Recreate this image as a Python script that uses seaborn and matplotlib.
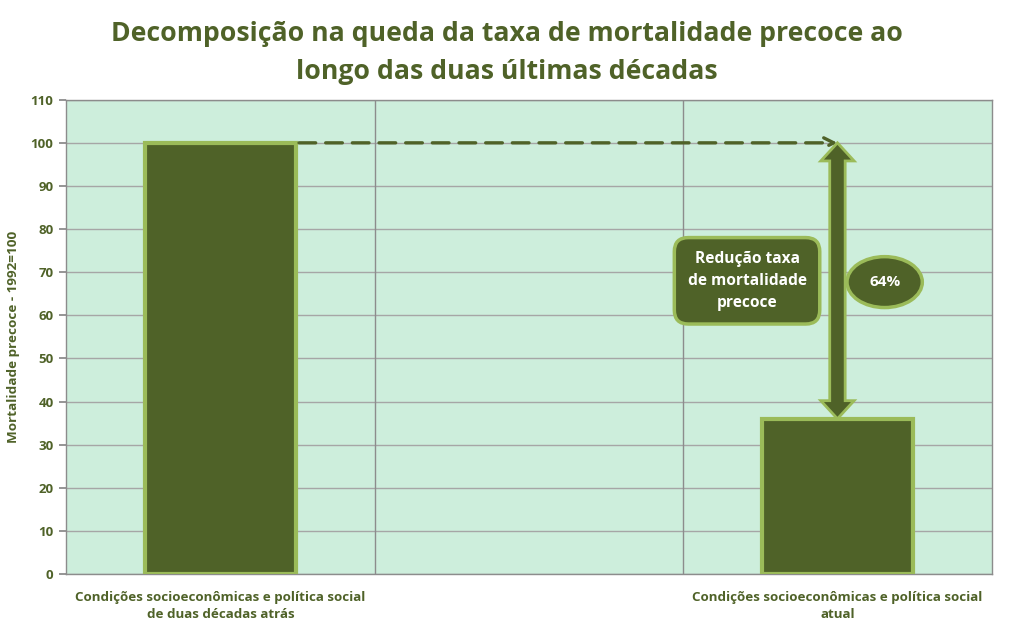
import numpy as np
import pandas as pd
import matplotlib
matplotlib.use("Agg")
import matplotlib.pyplot as plt
from matplotlib.patches import Polygon
import seaborn as sns

# ---- data ----
categories = ["Condições socioeconômicas e política social\nde duas décadas atrás",
              " ",
              "Condições socioeconômicas e política social\natual"]
present_categories = [categories[0], categories[2]]
values = [100, 36]
title = "Decomposição na queda da taxa de mortalidade precoce ao\nlongo das duas últimas décadas"
ylabel = "Mortalidade precoce - 1992=100"
yticks = list(range(0, 111, 10))
box_label = "Redução taxa\nde mortalidade\nprecoce"

DARK = "#4F6228"
LIGHT = "#9BBB59"
BG = "#CDEEDC"
GRID = "#A6A6A6"

sns.set_theme(style="white")
plt.rcParams['font.family'] = ['Open Sans', 'DejaVu Sans']

fig = plt.figure(figsize=(10.13, 6.32), dpi=100)
ax = fig.add_axes([0.0652, 0.0918, 0.9138, 0.7504])
ax.set_facecolor(BG)

df = pd.DataFrame({"cat": present_categories, "val": values})
sns.barplot(data=df, x="cat", y="val", order=categories, color=DARK,
            width=0.49, edgecolor=LIGHT, linewidth=3, saturation=1, ax=ax, zorder=3)

ax.set_ylim(0, 110)
ax.set_xlim(-0.5, 2.5)
ax.set_yticks(yticks)
ax.set_yticklabels([str(t) for t in yticks], fontsize=9.5, fontweight="bold", color=DARK)
ax.set_xticks(range(len(categories)))
ax.set_xticklabels(categories, fontsize=9.6, fontweight="bold", color=DARK, linespacing=1.45)
ax.tick_params(axis="x", which="major", length=0, pad=12)
ax.set_xticks([-0.5, 0.5, 1.5, 2.5], minor=True)
ax.tick_params(axis="x", which="minor", length=5, color="#888888", direction="out")
ax.tick_params(axis="y", length=5, color="#888888", direction="out", left=True, pad=4)
ax.set_xlabel("")
ax.set_ylabel(ylabel, fontsize=9.7, fontweight="bold", color=DARK, labelpad=8)

ax.grid(axis="y", color=GRID, linewidth=1, zorder=1)
for xb in [0.5, 1.5]:
    ax.axvline(xb, color="#8C8C8C", linewidth=1, zorder=1)
ax.set_axisbelow(True)
for sp in ax.spines.values():
    sp.set_color("#8C8C8C")
    sp.set_linewidth(1)

# ---- dashed reference line from first bar top to arrow ----
top, bottom = values[0], values[1]
bar_right = 0 + 0.49 / 2
ax.annotate("", xy=(2, top), xytext=(bar_right + 0.01, top),
            arrowprops=dict(arrowstyle="->", color=DARK, lw=2.4, linestyle=(0, (5, 3)),
                            mutation_scale=18, shrinkA=0, shrinkB=0), zorder=4)

# ---- double block arrow ----
xc = 2
sw = 0.025   # shaft half width (data x)
hw = 0.054   # head half width
hl = 4.2     # head length (data y)
pts = [(xc, top), (xc + hw, top - hl), (xc + sw, top - hl), (xc + sw, bottom + hl),
       (xc + hw, bottom + hl), (xc, bottom), (xc - hw, bottom + hl), (xc - sw, bottom + hl),
       (xc - sw, top - hl), (xc - hw, top - hl)]
ax.add_patch(Polygon(pts, closed=True, facecolor=DARK, edgecolor=LIGHT, linewidth=2, zorder=5))

# ---- labels ----
mid = (top + bottom) / 2 + 0.3
ax.text(1.707, mid - 0.3, box_label, ha="center", va="center", color="white", fontsize=11.2,
        fontweight="bold", linespacing=1.5, zorder=6,
        bbox=dict(boxstyle="round,pad=0.85,rounding_size=0.9", facecolor=DARK,
                  edgecolor=LIGHT, linewidth=2.5))
pct = round((1 - bottom / top) * 100)
ax.text(2.153, mid - 0.6, f"{pct}%", ha="center", va="center", color="white", fontsize=11,
        fontweight="bold", zorder=6,
        bbox=dict(boxstyle="ellipse,pad=0.72", facecolor=DARK, edgecolor=LIGHT, linewidth=2.5))

fig.text(0.5, 0.916, title, ha="center", va="center", fontsize=19.2, fontweight="bold",
         color=DARK, linespacing=1.6)

fig.savefig("out.png", dpi=100, facecolor="white")
